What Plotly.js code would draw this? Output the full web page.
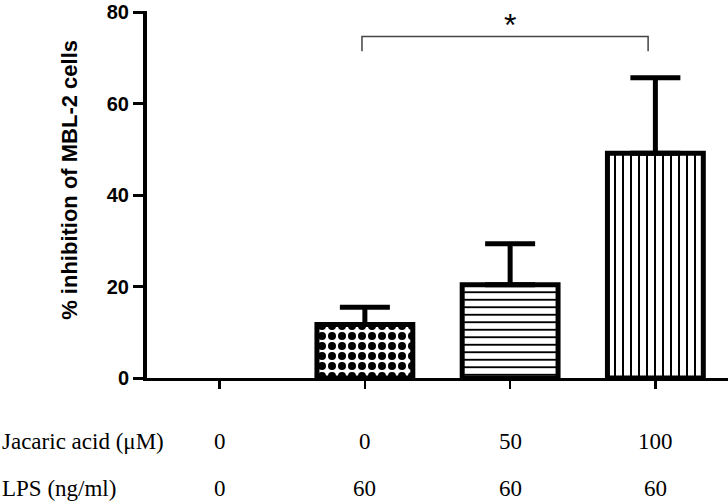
<!DOCTYPE html>
<html>
<head>
<meta charset="utf-8">
<script src="https://cdn.plot.ly/plotly-3.0.1.min.js"></script>
<style>
  html, body { margin: 0; padding: 0; background: #fff; }
  #chart { width: 728px; height: 501px; }
</style>
</head>
<body>
<div id="chart"></div>
<script>
// groups along the x axis
var groups = ['Control', 'LPS', 'LPS + JA 50', 'LPS + JA 100'];
var jacaricAcid = ['0', '0', '50', '100'];
var lpsDose = ['0', '60', '60', '60'];

// % inhibition (mean) and upper error
var inhibition = [0, 11.7, 20.4, 49.2];
var errorUp = [NaN, 3.8, 9.0, 16.5];

var patterns = ['', '.', '-', '|'];

var trace = {
  x: groups,
  y: inhibition,
  type: 'bar',
  width: 0.66,
  marker: {
    color: 'white',
    line: { color: 'black', width: [0, 5, 5, 5] },
    pattern: {
      shape: patterns,
      fgcolor: 'black',
      bgcolor: 'white',
      size: [8, 10, 7.5, 8],
      solidity: [0.3, 0.5, 0.25, 0.25]
    }
  },
  error_y: {
    type: 'data',
    symmetric: false,
    array: errorUp,
    arrayminus: [NaN, 0, 0, 0],
    color: 'black',
    thickness: 5,
    width: 25
  },
  hoverinfo: 'skip'
};

var rowFont = { family: 'Liberation Serif, Times New Roman, serif', size: 23, color: 'black' };

var annotations = [
  { xref: 'paper', yref: 'paper', x: -0.1325, y: 0.54, xanchor: 'center', yanchor: 'middle',
    textangle: -90, text: '% inhibition of MBL-2 cells', showarrow: false,
    font: { family: 'Liberation Sans, Arial, sans-serif', size: 22, weight: 'bold', color: 'black' } },
  { xref: 'paper', yref: 'paper', x: -0.253, y: -0.174, xanchor: 'left', yanchor: 'middle',
    text: 'Jacaric acid (\u03bcM)', showarrow: false, font: rowFont },
  { xref: 'paper', yref: 'paper', x: -0.253, y: -0.3, xanchor: 'left', yanchor: 'middle',
    text: 'LPS (ng/ml)', showarrow: false, font: rowFont },
  { xref: 'x', yref: 'y', x: 2, y: 77.2, xanchor: 'center', yanchor: 'middle',
    text: '*', showarrow: false,
    font: { family: 'Liberation Sans, Arial, sans-serif', size: 32, color: 'black' } }
];
groups.forEach(function (g, i) {
  annotations.push({ xref: 'x', yref: 'paper', x: g, y: -0.174, yanchor: 'middle',
    text: jacaricAcid[i], showarrow: false, font: rowFont });
  annotations.push({ xref: 'x', yref: 'paper', x: g, y: -0.3, yanchor: 'middle',
    text: lpsDose[i], showarrow: false, font: rowFont });
});

var layout = {
  width: 728,
  height: 501,
  margin: { l: 147, r: 0, t: 11, b: 123 },
  paper_bgcolor: 'white',
  plot_bgcolor: 'white',
  showlegend: false,
  xaxis: {
    type: 'category',
    range: [-0.5, 3.5],
    showline: true,
    linecolor: 'black',
    linewidth: 2.5,
    ticks: 'outside',
    ticklen: 8,
    tickwidth: 2.5,
    tickcolor: 'black',
    showticklabels: false,
    showgrid: false,
    zeroline: false
  },
  yaxis: {
    range: [0, 80.3],
    tickvals: [0, 20, 40, 60, 80],
    ticklabeloverflow: 'allow',
    showline: true,
    linecolor: 'black',
    linewidth: 4,
    ticks: 'outside',
    ticklen: 10,
    tickwidth: 3,
    tickcolor: 'black',
    tickfont: { family: 'Liberation Sans, Arial, sans-serif', size: 20, weight: 'bold', color: 'black' },
    showgrid: false,
    zeroline: false
  },
  shapes: [{
    type: 'path',
    xref: 'x',
    yref: 'y',
    path: 'M 0.98,71.5 L 0.98,74.7 L 2.95,74.7 L 2.95,71.5',
    line: { color: '#444', width: 1.5 }
  }],
  annotations: annotations
};

Plotly.newPlot('chart', [trace], layout, { displayModeBar: false, staticPlot: true });
</script>
</body>
</html>
